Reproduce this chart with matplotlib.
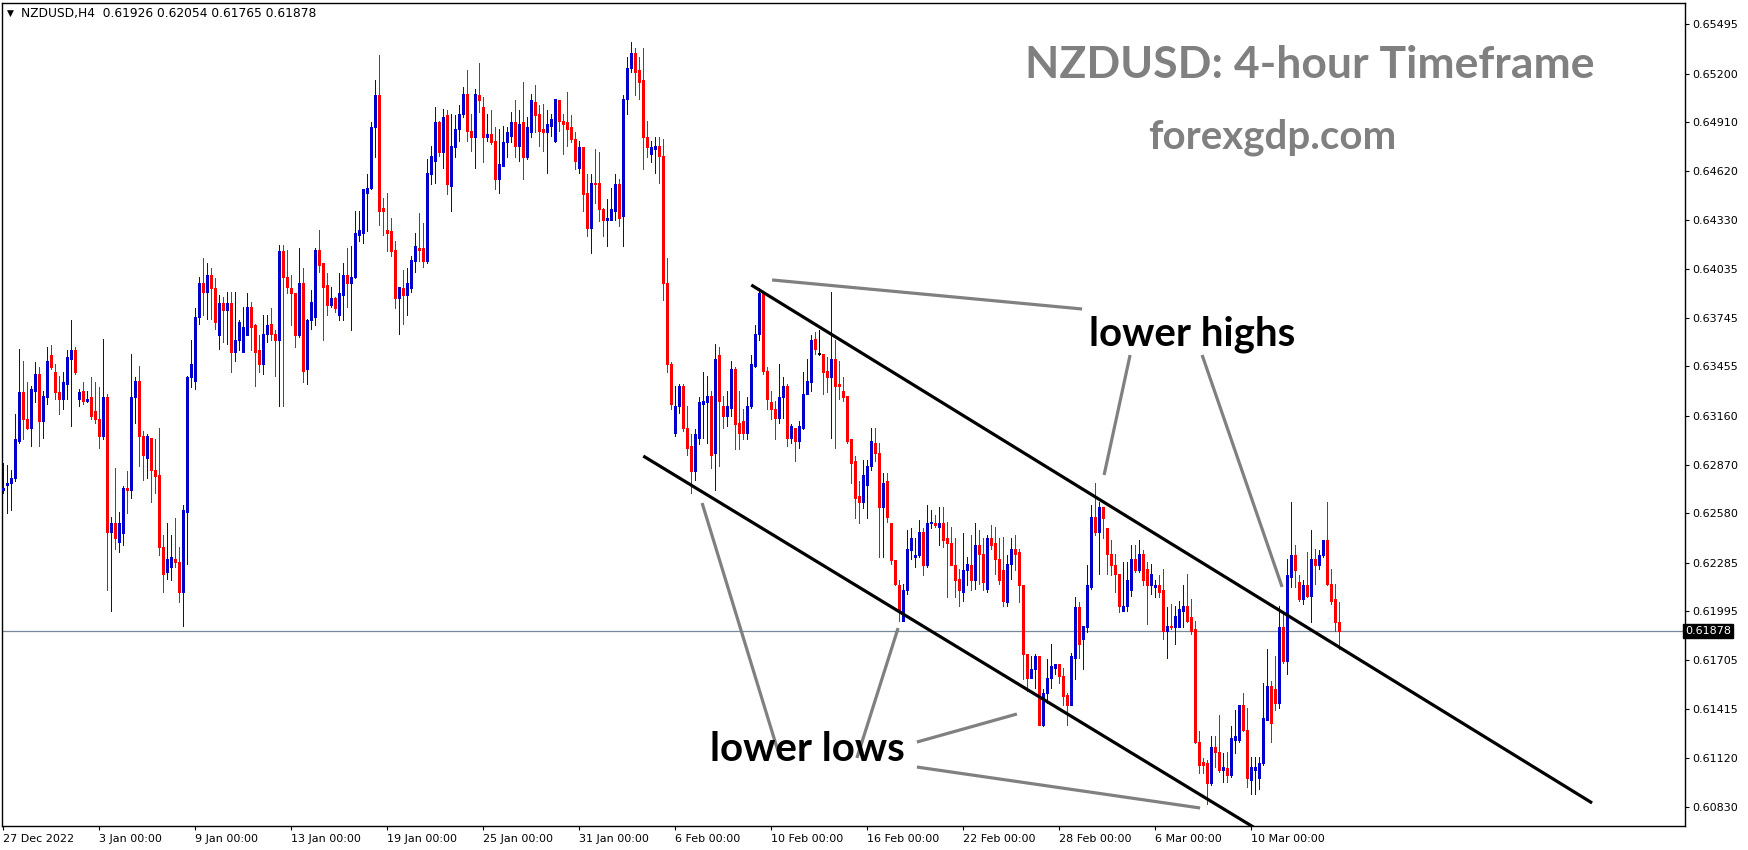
import numpy as np
import matplotlib
matplotlib.use("Agg")
import matplotlib.pyplot as plt
from matplotlib.transforms import blended_transform_factory

W, H = 1749, 850

# NZDUSD H4 candles, prices in pips (x 1e-4)
opens = [
    6272, 6275, 6276, 6279, 6301, 6330, 6314, 6309, 6331, 6341,
    6313, 6327, 6352, 6342, 6330, 6326, 6335, 6350, 6355, 6326,
    6331, 6325, 6327, 6319, 6314, 6304, 6327, 6247, 6252, 6241,
    6246, 6273, 6272, 6327, 6337, 6304, 6291, 6303, 6284, 6281,
    6238, 6223, 6226, 6231, 6229, 6211, 6259, 6339, 6337, 6375,
    6395, 6390, 6400, 6392, 6364, 6383, 6379, 6383, 6354, 6361,
    6354, 6364, 6381, 6370, 6355, 6347, 6365, 6371, 6365, 6361,
    6414, 6399, 6392, 6389, 6364, 6395, 6344, 6373, 6375, 6415,
    6407, 6394, 6382, 6386, 6376, 6388, 6400, 6395, 6399, 6424,
    6425, 6449, 6452, 6488, 6507, 6440, 6427, 6426, 6415, 6386,
    6392, 6388, 6392, 6408, 6416, 6416, 6408, 6460, 6468, 6491,
    6473, 6495, 6453, 6476, 6487, 6496, 6508, 6486, 6482, 6507,
    6500, 6482, 6484, 6480, 6457, 6465, 6479, 6483, 6491, 6477,
    6491, 6470, 6485, 6503, 6496, 6487, 6485, 6489, 6480, 6504,
    6492, 6491, 6488, 6481, 6464, 6476, 6449, 6428, 6455, 6455,
    6439, 6433, 6433, 6438, 6454, 6435, 6505, 6523, 6532, 6522,
    6516, 6482, 6472, 6475, 6477, 6471, 6395, 6347, 6306, 6322,
    6334, 6309, 6298, 6283, 6303, 6323, 6324, 6328, 6294, 6352,
    6322, 6316, 6321, 6344, 6312, 6313, 6306, 6322, 6346, 6365,
    6389, 6343, 6324, 6320, 6315, 6327, 6334, 6303, 6309, 6301,
    6309, 6329, 6336, 6362, 6353, 6353, 6343, 6339, 6350, 6335,
    6331, 6328, 6302, 6289, 6268, 6265, 6275, 6286, 6300, 6294,
    6262, 6277, 6252, 6230, 6215, 6194, 6212, 6236, 6232, 6233,
    6247, 6227, 6252, 6252, 6250, 6252, 6243, 6240, 6227, 6219,
    6211, 6224, 6227, 6218, 6239, 6234, 6213, 6243, 6240, 6231,
    6224, 6205, 6228, 6237, 6235, 6215, 6174, 6160, 6165, 6173,
    6132, 6151, 6160, 6166, 6168, 6161, 6150, 6144, 6172, 6202,
    6183, 6190, 6214, 6256, 6247, 6262, 6249, 6234, 6227, 6222,
    6200, 6203, 6212, 6231, 6224, 6234, 6225, 6215, 6214, 6215,
    6212, 6188, 6191, 6190, 6190, 6200, 6203, 6196, 6189, 6122,
    6110, 6109, 6097, 6119, 6116, 6105, 6106, 6102, 6123, 6123,
    6144, 6129, 6099, 6105, 6100, 6109, 6135, 6155, 6153, 6145,
    6190, 6170, 6220, 6233, 6217, 6207, 6215, 6209, 6231, 6227,
    6233, 6242, 6216, 6207, 6193,
]
highs = [
    6288, 6287, 6284, 6317, 6356, 6349, 6336, 6334, 6348, 6345,
    6331, 6357, 6358, 6347, 6340, 6342, 6355, 6373, 6357, 6332,
    6336, 6331, 6339, 6336, 6333, 6362, 6329, 6256, 6285, 6259,
    6274, 6283, 6353, 6339, 6346, 6307, 6305, 6303, 6302, 6309,
    6245, 6252, 6245, 6255, 6238, 6263, 6340, 6361, 6380, 6399,
    6410, 6407, 6404, 6398, 6388, 6387, 6390, 6390, 6390, 6373,
    6381, 6389, 6384, 6371, 6364, 6376, 6376, 6380, 6367, 6418,
    6418, 6415, 6400, 6389, 6416, 6404, 6374, 6391, 6416, 6427,
    6407, 6401, 6393, 6387, 6401, 6407, 6416, 6417, 6438, 6438,
    6451, 6460, 6491, 6516, 6531, 6446, 6449, 6434, 6420, 6393,
    6403, 6404, 6411, 6425, 6437, 6431, 6469, 6477, 6500, 6492,
    6499, 6498, 6496, 6495, 6501, 6512, 6522, 6496, 6511, 6526,
    6506, 6496, 6498, 6488, 6487, 6489, 6488, 6497, 6504, 6498,
    6515, 6494, 6508, 6513, 6501, 6502, 6498, 6496, 6505, 6504,
    6496, 6509, 6495, 6485, 6480, 6476, 6460, 6460, 6475, 6473,
    6440, 6445, 6452, 6460, 6457, 6507, 6530, 6539, 6535, 6530,
    6535, 6492, 6480, 6482, 6482, 6481, 6410, 6348, 6334, 6335,
    6335, 6322, 6305, 6308, 6327, 6342, 6340, 6331, 6359, 6357,
    6328, 6331, 6349, 6345, 6331, 6320, 6327, 6352, 6370, 6392,
    6390, 6345, 6331, 6325, 6347, 6339, 6335, 6311, 6309, 6313,
    6342, 6350, 6364, 6366, 6367, 6353, 6351, 6390, 6361, 6349,
    6339, 6328, 6302, 6292, 6277, 6290, 6290, 6309, 6309, 6300,
    6282, 6282, 6252, 6230, 6218, 6216, 6248, 6249, 6243, 6254,
    6249, 6263, 6260, 6257, 6262, 6262, 6253, 6250, 6243, 6225,
    6246, 6232, 6245, 6252, 6248, 6243, 6245, 6251, 6250, 6243,
    6244, 6233, 6243, 6245, 6237, 6215, 6174, 6173, 6174, 6173,
    6153, 6171, 6180, 6168, 6168, 6166, 6151, 6175, 6208, 6205,
    6191, 6227, 6263, 6276, 6265, 6262, 6249, 6242, 6234, 6222,
    6229, 6229, 6239, 6239, 6242, 6236, 6229, 6228, 6218, 6221,
    6225, 6202, 6204, 6203, 6206, 6215, 6222, 6207, 6194, 6128,
    6112, 6111, 6125, 6125, 6138, 6115, 6116, 6131, 6141, 6144,
    6151, 6142, 6113, 6113, 6113, 6157, 6177, 6158, 6173, 6203,
    6200, 6231, 6265, 6239, 6221, 6218, 6235, 6248, 6237, 6236,
    6242, 6265, 6225, 6216, 6205,
]
lows = [
    6270, 6258, 6260, 6277, 6300, 6302, 6308, 6298, 6324, 6298,
    6303, 6323, 6344, 6326, 6317, 6320, 6326, 6310, 6341, 6322,
    6323, 6324, 6314, 6312, 6297, 6302, 6212, 6200, 6237, 6235,
    6239, 6258, 6267, 6312, 6286, 6278, 6279, 6265, 6270, 6233,
    6211, 6219, 6218, 6226, 6205, 6191, 6228, 6333, 6332, 6371,
    6376, 6374, 6374, 6368, 6356, 6360, 6359, 6342, 6349, 6355,
    6354, 6364, 6355, 6334, 6342, 6341, 6360, 6361, 6340, 6322,
    6322, 6389, 6370, 6357, 6363, 6336, 6335, 6368, 6370, 6402,
    6361, 6376, 6381, 6378, 6373, 6373, 6381, 6367, 6398, 6420,
    6419, 6426, 6451, 6470, 6430, 6424, 6414, 6411, 6380, 6365,
    6371, 6376, 6390, 6402, 6408, 6405, 6407, 6454, 6455, 6471,
    6464, 6448, 6438, 6470, 6480, 6494, 6480, 6474, 6464, 6497,
    6467, 6480, 6478, 6451, 6449, 6465, 6470, 6479, 6470, 6468,
    6457, 6469, 6482, 6485, 6477, 6474, 6461, 6483, 6479, 6486,
    6472, 6477, 6479, 6463, 6461, 6438, 6423, 6413, 6443, 6432,
    6423, 6417, 6433, 6433, 6429, 6417, 6496, 6521, 6507, 6505,
    6463, 6470, 6467, 6461, 6455, 6385, 6342, 6320, 6304, 6318,
    6307, 6293, 6270, 6278, 6299, 6303, 6300, 6285, 6272, 6286,
    6309, 6310, 6316, 6296, 6296, 6302, 6302, 6321, 6345, 6361,
    6341, 6320, 6314, 6302, 6312, 6315, 6298, 6300, 6289, 6297,
    6308, 6329, 6331, 6353, 6352, 6329, 6330, 6303, 6297, 6326,
    6325, 6300, 6276, 6255, 6252, 6261, 6255, 6284, 6289, 6232,
    6232, 6253, 6228, 6215, 6194, 6194, 6210, 6231, 6226, 6232,
    6221, 6226, 6249, 6250, 6239, 6238, 6208, 6227, 6208, 6203,
    6206, 6215, 6212, 6213, 6216, 6212, 6211, 6237, 6222, 6216,
    6203, 6203, 6219, 6224, 6205, 6159, 6152, 6160, 6154, 6132,
    6131, 6145, 6154, 6162, 6157, 6144, 6132, 6144, 6159, 6172,
    6165, 6187, 6213, 6245, 6222, 6243, 6222, 6221, 6211, 6199,
    6200, 6200, 6209, 6223, 6223, 6215, 6192, 6210, 6208, 6208,
    6183, 6172, 6189, 6180, 6190, 6190, 6193, 6186, 6121, 6103,
    6103, 6085, 6096, 6107, 6104, 6098, 6098, 6101, 6115, 6122,
    6128, 6095, 6091, 6091, 6094, 6108, 6135, 6122, 6141, 6142,
    6169, 6162, 6214, 6214, 6206, 6204, 6208, 6193, 6216, 6225,
    6232, 6215, 6204, 6188, 6177,
]
closes = [
    6273, 6276, 6279, 6302, 6330, 6314, 6309, 6332, 6341, 6313,
    6328, 6349, 6345, 6330, 6326, 6336, 6351, 6355, 6342, 6330,
    6325, 6326, 6316, 6314, 6304, 6327, 6247, 6252, 6243, 6252,
    6273, 6272, 6327, 6337, 6304, 6293, 6304, 6284, 6280, 6238,
    6222, 6231, 6232, 6229, 6211, 6260, 6339, 6347, 6375, 6395,
    6390, 6400, 6392, 6372, 6383, 6379, 6383, 6354, 6361, 6372,
    6369, 6381, 6369, 6354, 6347, 6365, 6370, 6365, 6361, 6414,
    6399, 6393, 6389, 6364, 6395, 6343, 6373, 6384, 6415, 6406,
    6393, 6382, 6386, 6380, 6389, 6400, 6395, 6399, 6425, 6427,
    6451, 6452, 6488, 6507, 6438, 6438, 6425, 6414, 6386, 6393,
    6388, 6395, 6409, 6417, 6415, 6408, 6461, 6471, 6491, 6473,
    6494, 6454, 6477, 6487, 6496, 6508, 6486, 6482, 6508, 6504,
    6482, 6484, 6479, 6457, 6466, 6479, 6485, 6491, 6477, 6490,
    6470, 6488, 6504, 6495, 6486, 6485, 6490, 6493, 6505, 6492,
    6490, 6487, 6481, 6468, 6476, 6448, 6428, 6455, 6454, 6439,
    6433, 6434, 6439, 6454, 6434, 6505, 6523, 6532, 6521, 6515,
    6482, 6476, 6476, 6477, 6471, 6395, 6347, 6323, 6322, 6334,
    6309, 6297, 6283, 6305, 6324, 6325, 6328, 6293, 6350, 6325,
    6316, 6322, 6344, 6311, 6306, 6306, 6322, 6347, 6365, 6389,
    6343, 6326, 6320, 6315, 6327, 6334, 6303, 6310, 6301, 6310,
    6329, 6337, 6361, 6356, 6353, 6342, 6339, 6350, 6334, 6334,
    6327, 6301, 6288, 6267, 6265, 6281, 6286, 6301, 6294, 6262,
    6276, 6256, 6230, 6216, 6200, 6212, 6237, 6243, 6233, 6247,
    6227, 6252, 6253, 6251, 6252, 6242, 6240, 6227, 6218, 6212,
    6224, 6228, 6218, 6239, 6234, 6217, 6243, 6239, 6231, 6218,
    6206, 6228, 6237, 6234, 6215, 6174, 6160, 6165, 6173, 6132,
    6151, 6160, 6167, 6168, 6161, 6149, 6144, 6173, 6202, 6180,
    6191, 6215, 6256, 6247, 6262, 6255, 6234, 6227, 6222, 6203,
    6203, 6218, 6231, 6224, 6234, 6218, 6215, 6222, 6215, 6211,
    6188, 6191, 6190, 6197, 6201, 6203, 6194, 6188, 6122, 6108,
    6108, 6097, 6119, 6116, 6105, 6107, 6102, 6124, 6125, 6144,
    6129, 6100, 6107, 6107, 6109, 6136, 6155, 6133, 6145, 6190,
    6170, 6221, 6233, 6224, 6207, 6215, 6209, 6231, 6227, 6233,
    6242, 6216, 6206, 6193, 6188,
]

date_labels = ["27 Dec 2022", "3 Jan 00:00", "9 Jan 00:00", "13 Jan 00:00",
               "19 Jan 00:00", "25 Jan 00:00", "31 Jan 00:00", "6 Feb 00:00",
               "10 Feb 00:00", "16 Feb 00:00", "22 Feb 00:00", "28 Feb 00:00",
               "6 Mar 00:00", "10 Mar 00:00"]
bars_per_label = 24

price_ticks = [0.65495, 0.65200, 0.64910, 0.64620, 0.64330, 0.64035, 0.63745,
               0.63455, 0.63160, 0.62870, 0.62580, 0.62285, 0.61995, 0.61705,
               0.61415, 0.61120, 0.60830]

header = "NZDUSD,H4  0.61926 0.62054 0.61765 0.61878"
last_price = 0.61878

# channel lines (bar index, price)
channel_upper = [(187.0, 0.63940), (397.2, 0.60854)]
channel_lower = [(160.0, 0.62921), (316.0, 0.60660)]

# grey pointer lines
pointers = [
    [(192.2, 0.63970), (269.7, 0.63797)],
    [(281.7, 0.63523), (275.2, 0.62808)],
    [(299.7, 0.63523), (319.7, 0.62141)],
    [(174.7, 0.62641), (194.2, 0.61122)],
    [(223.7, 0.61896), (213.4, 0.61122)],
    [(228.4, 0.61217), (253.4, 0.61384)],
    [(228.4, 0.61068), (299.2, 0.60824)],
]

o = np.array(opens) / 10000
h = np.array(highs) / 10000
l = np.array(lows) / 10000
c = np.array(closes) / 10000
x = np.arange(len(o))

BLUE = "#0000CD"
RED = "#FF0000"
GREY = "#808080"

fig = plt.figure(figsize=(W / 100, H / 100), dpi=100)
left, right, top, bottom = 2.5, 1685, 2.5, 826
ax = fig.add_axes([left / W, 1 - bottom / H, (right - left) / W, (bottom - top) / H])

colors = np.where(c > o, BLUE, np.where(c < o, RED, "black"))
body_lo = np.minimum(o, c)
body_hi = np.maximum(body_lo + 0.00007, np.maximum(o, c))
# wicks 1 px, bodies 3 px
ax.vlines(x, np.minimum(l, body_lo), np.maximum(h, body_hi),
          colors=colors, linewidth=0.72, antialiased=False, zorder=2)
ax.vlines(x, body_lo, body_hi, colors=colors, linewidth=2.16, antialiased=False,
          capstyle="butt", zorder=3)

ax.axhline(last_price, color="#778899", lw=0.9, zorder=1)

for (x0, y0), (x1, y1) in [channel_upper, channel_lower]:
    ax.plot([x0, x1], [y0, y1], color="black", lw=2.3, solid_capstyle="butt", zorder=4)
for (x0, y0), (x1, y1) in pointers:
    ax.plot([x0, x1], [y0, y1], color=GREY, lw=2.3, solid_capstyle="butt", zorder=4)

ax.text(297.2, 0.63577, "lower highs", ha="center", va="baseline", fontsize=29,
        fontweight="bold", family="Lato", color="black", zorder=5)
ax.text(200.9, 0.61104, "lower lows", ha="center", va="baseline", fontsize=29,
        fontweight="bold", family="Lato", color="black", zorder=5)

ax.set_xlim((left - 3.3) / 4, (right - 3.3) / 4)
ax.set_ylim(0.607167, 0.656231)

ax.set_xticks(np.arange(len(date_labels)) * bars_per_label)
ax.set_xticklabels(date_labels, ha="left")
ax.set_yticks(price_ticks)
ax.set_yticklabels([f"{p:.5f}" for p in price_ticks])
ax.yaxis.tick_right()
ax.tick_params(axis="both", direction="out", length=3, width=0.8, labelsize=8,
               colors="black", pad=2)
ax.tick_params(axis="x", pad=3)
for s in ax.spines.values():
    s.set_color("black")
    s.set_linewidth(1.0)

trans = blended_transform_factory(ax.transAxes, ax.transData)
ax.text(1.0, last_price, f"{last_price:.5f}", transform=trans, ha="left", va="center",
        fontsize=8, color="white", zorder=6, clip_on=False,
        bbox=dict(boxstyle="square,pad=0.15", facecolor="black", edgecolor="black"))

fig.text(7 / W, 1 - 13 / H, "\u25BC", fontsize=6.5, va="center", ha="left", color="black")
fig.text(21 / W, 1 - 13 / H, header, fontsize=8.8, va="center", ha="left", color="black")

fig.text(1310 / W, 1 - 78 / H, "NZDUSD: 4-hour Timeframe", ha="center", va="baseline",
         fontsize=32, fontweight="bold", family="Lato", color=GREY)
fig.text(1272 / W, 1 - 148 / H, "forexgdp.com", ha="center", va="baseline",
         fontsize=29, fontweight="bold", family="Lato", color=GREY)

fig.savefig("out.png", dpi=100)
